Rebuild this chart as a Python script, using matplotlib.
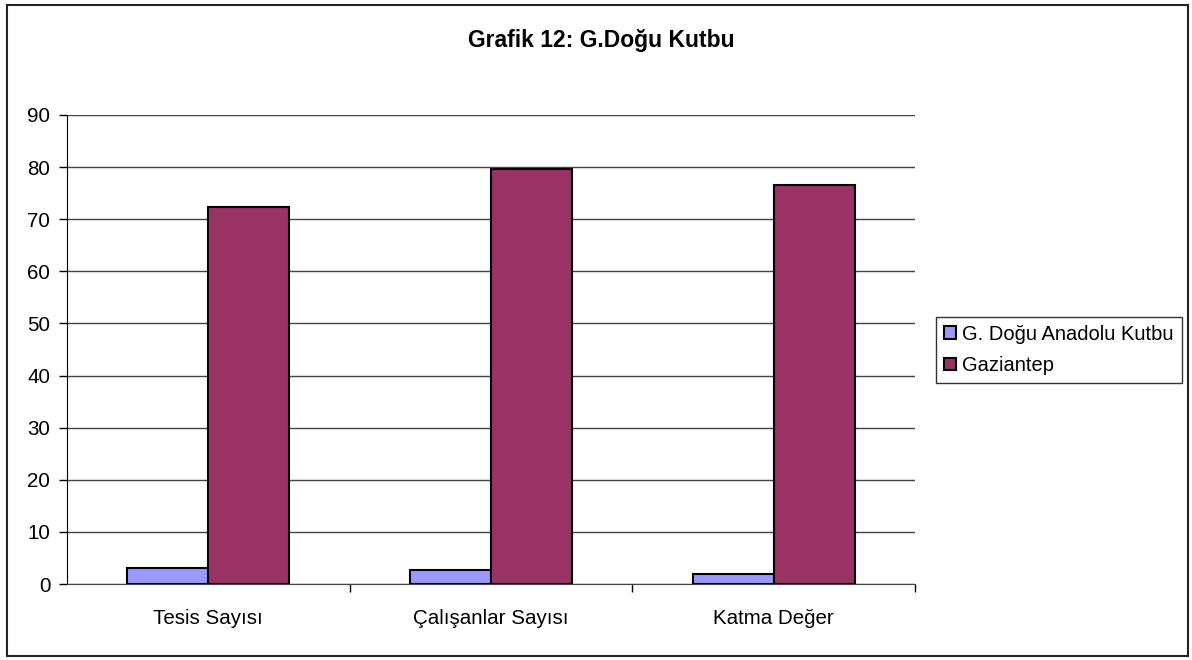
from matplotlib import pyplot as plt
from matplotlib.patches import Rectangle
import numpy as np

plt.rcParams["font.family"] = ["Liberation Sans", "DejaVu Sans"]

categories = ["Tesis Sayısı", "Çalışanlar Sayısı", "Katma Değer"]
series_names = ["G. Doğu Anadolu Kutbu", "Gaziantep"]
kutbu = [3.1, 2.7, 1.9]
gaziantep = [72.3, 79.7, 76.5]
colors = ["#9999FF", "#993366"]

W, H = 1192, 660
fig = plt.figure(figsize=(W / 100, H / 100), dpi=100)

# outer chart border
fig.patches.append(
    Rectangle((7 / W, 1 - 656 / H), 1181 / W, 651 / H, transform=fig.transFigure,
              fill=False, edgecolor="#222222", linewidth=1.5)
)

ax = fig.add_axes([67 / W, 1 - 584 / H, 848 / W, 469 / H])

x = np.arange(len(categories))
bw = 0.286
ax.bar(x - bw / 2, kutbu, bw, color=colors[0], edgecolor="black", linewidth=1.5,
       label=series_names[0], zorder=3)
ax.bar(x + bw / 2, gaziantep, bw, color=colors[1], edgecolor="black", linewidth=1.5,
       label=series_names[1], zorder=3)

ax.set_xlim(-0.5, 2.5)
ax.set_ylim(0, 90)
ax.set_yticks(np.arange(0, 91, 10))
ax.yaxis.grid(True, color="#444444", linewidth=1)
ax.set_axisbelow(True)

ax.set_xticks(x)
ax.set_xticklabels(categories)
ax.set_xticks([0.5, 1.5, 2.5], minor=True)
ax.tick_params(axis="x", which="major", length=0, pad=18, labelsize=14.8)
ax.tick_params(axis="x", which="minor", length=6, width=1, color="black", direction="out")
ax.tick_params(axis="y", length=6, width=1, direction="out", pad=6, labelsize=14.8)

for s in ["top", "right"]:
    ax.spines[s].set_visible(False)
ax.spines["left"].set_color("black")
ax.spines["bottom"].set_color("#444444")

fig.text(601 / W, 1 - 40 / H, "Grafik 12: G.Doğu Kutbu", ha="center", va="center",
         fontsize=16.5, fontweight="bold")

leg = fig.legend(loc="center left", bbox_to_anchor=(936 / W, 1 - 350 / H),
                 fontsize=14.5, frameon=True, fancybox=False, edgecolor="black",
                 handlelength=0.6, handleheight=0.6, handletextpad=0.3,
                 borderpad=0.4, labelspacing=0.6, borderaxespad=0)
leg.get_frame().set_linewidth(1)

fig.savefig("out.png", dpi=100)
